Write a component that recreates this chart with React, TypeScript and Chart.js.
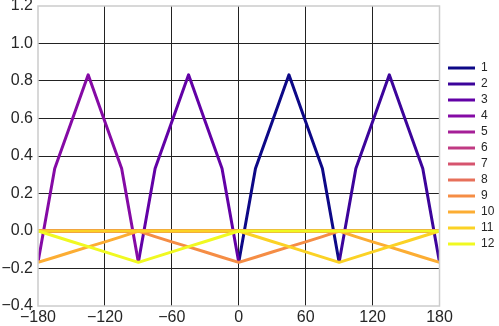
import React, { useEffect, useRef } from 'react';
import { Chart, registerables } from 'chart.js';

Chart.register(...registerables);

// x positions (degrees)
const angles = [-180, -165, -150, -135, -120, -105, -90, -75, -60, -45, -30, -15, 0, 15, 30, 45, 60, 75, 90, 105, 120, 135, 150, 165, 180];

const seriesLabels = ['1', '2', '3', '4', '5', '6', '7', '8', '9', '10', '11', '12'];

const colors = ['#0d0887', '#3c049b', '#6201a6', '#850aa5', '#a51f97', '#c03a83', '#d6546e', '#e7705a', '#f58d45', '#fcad33', '#fbd225', '#f0f921'];

const N = null;
const s1 = [N, N, N, N, N, N, N, N, N, N, N, N, -0.167, 0.333, 0.583, 0.833, 0.583, 0.333, -0.167, N, N, N, N, N, N];
const s2 = [N, N, N, N, N, N, N, N, N, N, N, N, N, N, N, N, N, N, -0.167, 0.333, 0.583, 0.833, 0.583, 0.333, -0.167];
const s3 = [N, N, N, N, N, N, -0.167, 0.333, 0.583, 0.833, 0.583, 0.333, -0.167, N, N, N, N, N, N, N, N, N, N, N, N];
const s4 = [-0.167, 0.333, 0.583, 0.833, 0.583, 0.333, -0.167, N, N, N, N, N, N, N, N, N, N, N, N, N, N, N, N, N, N];
const s5 = [0, 0, 0, 0, 0, 0, 0, 0, 0, 0, 0, 0, 0, 0, 0, 0, 0, 0, 0, 0, 0, 0, 0, 0, 0];
const s6 = [0, 0, 0, 0, 0, 0, 0, 0, 0, 0, 0, 0, 0, 0, 0, 0, 0, 0, 0, 0, 0, 0, 0, 0, 0];
const s7 = [0, 0, 0, 0, 0, 0, 0, 0, 0, 0, 0, 0, 0, 0, 0, 0, 0, 0, 0, 0, 0, 0, 0, 0, 0];
const s8 = [0, 0, 0, 0, 0, 0, 0, 0, 0, 0, 0, 0, 0, 0, 0, 0, 0, 0, 0, 0, 0, 0, 0, 0, 0];
const s9 = [0, 0, 0, 0, 0, 0, 0, -0.03, -0.058, -0.085, -0.112, -0.14, -0.167, -0.14, -0.112, -0.085, -0.058, -0.03, 0, 0, 0, 0, 0, 0, 0];
const s10 = [-0.167, -0.14, -0.112, -0.085, -0.058, -0.03, 0, 0, 0, 0, 0, 0, 0, 0, 0, 0, 0, 0, 0, -0.03, -0.058, -0.085, -0.112, -0.14, -0.167];
const s11 = [0, 0, 0, 0, 0, 0, 0, 0, 0, 0, 0, 0, 0, -0.028, -0.056, -0.083, -0.111, -0.139, -0.167, -0.139, -0.111, -0.083, -0.056, -0.028, 0];
const s12 = [0, -0.028, -0.056, -0.083, -0.111, -0.139, -0.167, -0.139, -0.111, -0.083, -0.056, -0.028, 0, 0, 0, 0, 0, 0, 0, 0, 0, 0, 0, 0, 0];

const allSeries = [s1, s2, s3, s4, s5, s6, s7, s8, s9, s10, s11, s12];

const FONT = '"Liberation Sans", Arial, sans-serif';
const TEXT = '#262626';
const GRID = '#222222';

const minus = (s: string) => s.replace(/-/g, '\u2212');

export default function App() {
  const ref = useRef<HTMLCanvasElement>(null);

  useEffect(() => {
    const frame = {
      id: 'frame',
      afterDatasetsDraw(chart: any) {
        const { ctx, chartArea: a } = chart;
        ctx.save();
        ctx.strokeStyle = '#cccccc';
        ctx.lineWidth = 1.5;
        ctx.strokeRect(a.left, a.top, a.right - a.left, a.bottom - a.top);
        ctx.restore();
      },
    };
    const defaultGen = (Chart as any).defaults.plugins.legend.labels.generateLabels;

    const chart = new Chart(ref.current as HTMLCanvasElement, {
      type: 'line',
      data: {
        datasets: allSeries.map((s, i) => ({
          label: seriesLabels[i],
          data: angles.map((x, j) => ({ x, y: s[j] })),
          borderColor: colors[i],
          backgroundColor: colors[i],
          borderWidth: 3,
          pointRadius: 0,
          pointHoverRadius: 0,
          tension: 0,
          fill: false,
          clip: 0,
          spanGaps: false,
          order: 11 - i,
          borderJoinStyle: 'round',
        })) as any,
      },
      options: {
        responsive: false,
        animation: false,
        events: [],
        layout: { padding: { top: 6, left: 0, right: 0, bottom: 0 } },
        plugins: {
          legend: {
            position: 'right',
            fullSize: false,
            maxWidth: 55,
            labels: {
              boxWidth: 27,
              boxHeight: 3,
              padding: 4,
              color: TEXT,
              font: { family: FONT, size: 12 },
              sort: (a: any, b: any) => a.datasetIndex - b.datasetIndex,
              generateLabels: (c: any) =>
                defaultGen(c).map((l: any) => ({ ...l, fillStyle: l.strokeStyle, lineWidth: 0 })),
            },
          } as any,
          tooltip: { enabled: false },
        },
        scales: {
          x: {
            type: 'linear',
            min: -180,
            max: 180,
            grid: {
              drawTicks: false,
              lineWidth: 1,
              color: (c: any) =>
                c.tick && (c.tick.value <= -180 || c.tick.value >= 180) ? 'rgba(0,0,0,0)' : GRID,
            },
            border: { display: false },
            ticks: {
              stepSize: 60,
              padding: 2,
              maxRotation: 0,
              autoSkip: false,
              color: TEXT,
              font: { family: FONT, size: 16 },
              callback: (v: any) => minus(String(v)),
            },
            afterFit: (s: any) => {
              s.height = 20;
              s.paddingLeft = 0;
              s.paddingRight = 0;
            },
          },
          y: {
            type: 'linear',
            min: -0.4,
            max: 1.2,
            grid: {
              drawTicks: false,
              lineWidth: 1,
              color: (c: any) =>
                c.tick && (c.tick.value <= -0.399 || c.tick.value >= 1.199) ? 'rgba(0,0,0,0)' : GRID,
            },
            border: { display: false },
            ticks: {
              stepSize: 0.2,
              padding: 5,
              color: TEXT,
              font: { family: FONT, size: 16 },
              callback: (v: any) => {
                const n = Math.abs(Number(v)) < 1e-9 ? 0 : Number(v);
                return minus(n.toFixed(1));
              },
            },
            afterFit: (s: any) => {
              s.width = 38;
              s.paddingTop = 0;
              s.paddingBottom = 0;
            },
          },
          yR: {
            type: 'linear',
            position: 'right',
            display: true,
            grid: { display: false },
            border: { display: false },
            ticks: { display: false },
            afterFit: (s: any) => {
              s.width = 4.5;
              s.paddingTop = 0;
              s.paddingBottom = 0;
            },
          },
        } as any,
      },
      plugins: [frame],
    });
    return () => chart.destroy();
  }, []);

  return (
    <div style={{ position: 'fixed', left: 0, top: 0, width: 499, height: 326 }}>
      <canvas ref={ref} width={499} height={326} style={{ width: 499, height: 326, display: 'block' }} />
    </div>
  );
}
